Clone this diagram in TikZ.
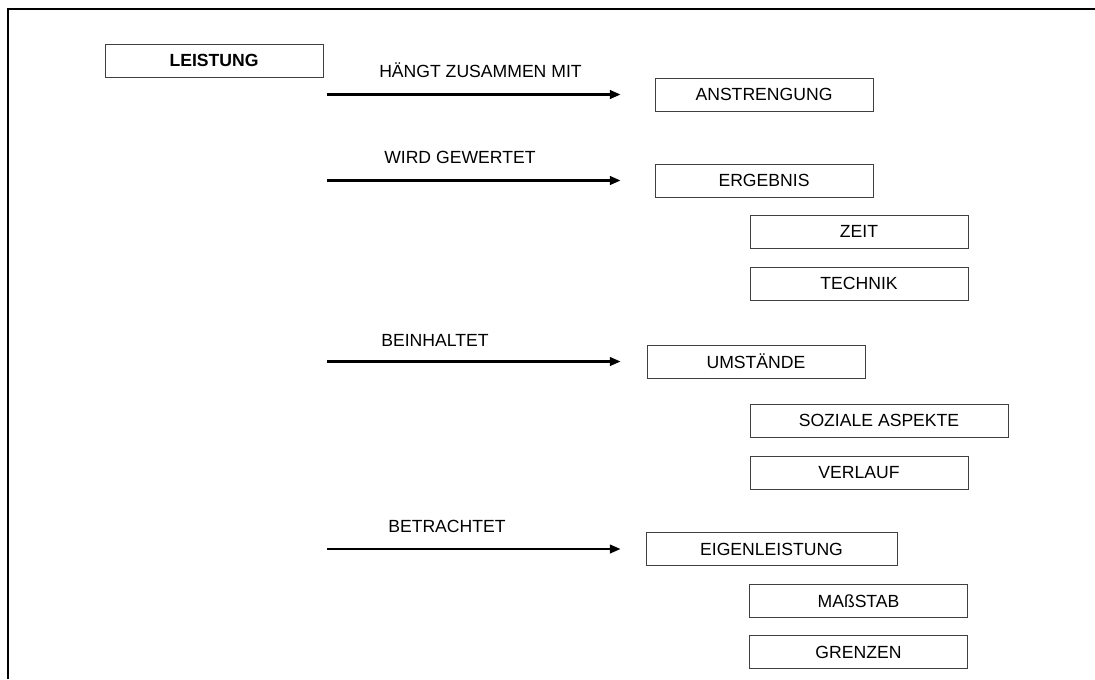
\documentclass[tikz,border=0pt]{standalone}
\usepackage{fontspec}
\setmainfont{Liberation Sans}
\usetikzlibrary{arrows.meta,positioning}

\begin{document}
\begin{tikzpicture}[x=0.75pt,y=-0.75pt,{box/.style={rectangle,draw=black!75,line width=0.75pt,minimum height=24.75pt,minimum width=163.5pt,inner sep=0pt,font=\fontsize{13.2}{15}\selectfont}},{rel/.style={anchor=west,inner sep=0pt,font=\fontsize{13.2}{15}\selectfont}},{conn/.style={-{Triangle[length=8pt,width=6.5pt]},line width=1.6pt}}]
	\useasboundingbox (0,0) rectangle (1095,679);
	%%frame
	\draw [line width=2.2pt] (8,679) -- (8,9) -- (1095,9);
	%%main term
	\node [box,font=\fontsize{13.2}{15}\selectfont\bfseries] (leistung) at (214,60.5) {LEISTUNG};
	%%start points of arrows
	\coordinate (s1) at (327,94.5);
	\coordinate (s2) at (327,180.5);
	\coordinate (s3) at (327,361.5);
	\coordinate (s4) at (327,549);
	%%boxes
	\node [box] (anstrengung) at (764,94.5) {ANSTRENGUNG};
	\node [box] (ergebnis) at (764,180.5) {ERGEBNIS};
	\node [box] (zeit) at (859,231.5) {ZEIT};
	\node [box] (technik) at (859,283.5) {TECHNIK};
	\node [box] (umstaende) at (756,361.5) {UMSTÄNDE};
	\node [box,minimum width=193.5pt] (sozial) at (879,420.5) {SOZIALE ASPEKTE};
	\node [box] (verlauf) at (859,472.5) {VERLAUF};
	\node [box,minimum width=188.25pt] (eigen) at (771.5,549) {EIGENLEISTUNG};
	\node [box] (massstab) at (858.5,601) {MAßSTAB};
	\node [box] (grenzen) at (858.5,652) {GRENZEN};
	%%arrows
	\draw [conn,shorten >=25.5pt] (s1) -- (anstrengung.west);
	\draw [conn,shorten >=25.5pt] (s2) -- (ergebnis.west);
	\draw [conn,shorten >=19.5pt] (s3) -- (umstaende.west);
	\draw [conn,shorten >=18.75pt] (s4) -- (eigen.west);
	%%labels
	\node [rel] (l1) at (379,70) {HÄNGT ZUSAMMEN MIT};
	\node [rel] (l2) at (384,157) {WIRD GEWERTET};
	\node [rel] (l3) at (381,340) {BEINHALTET};
	\node [rel] (l4) at (388,526) {BETRACHTET};
\end{tikzpicture}
\end{document}
